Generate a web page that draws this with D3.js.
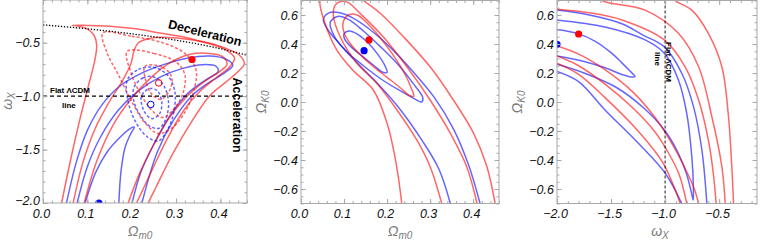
<!DOCTYPE html>
<html>
<head>
<meta charset="utf-8">
<script src="https://cdn.jsdelivr.net/npm/d3@7"></script>
<style>
body { margin: 0; background: #fff; }
</style>
</head>
<body>
<div id="chart"></div>
<script>
// ---- data ----
// panel 1: (Omega_m0, w_X)
var p1RedSolid = [
  [[0.042,-2.0],[0.062,-1.6],[0.083,-1.22],[0.102,-0.91],[0.117,-0.66],[0.121,-0.52],[0.115,-0.43],[0.1,-0.37],[0.08,-0.345],[0.066,-0.336],[0.1,-0.338],[0.151,-0.346],[0.21,-0.37],[0.263,-0.408],[0.31,-0.44],[0.353,-0.483],[0.39,-0.52],[0.413,-0.554],[0.443,-0.617],[0.454,-0.694],[0.44,-0.77],[0.413,-0.866],[0.375,-1.0],[0.338,-1.22],[0.293,-1.535],[0.255,-1.85],[0.237,-2.0]],
  [[0.068,-2.0],[0.09,-1.62],[0.118,-1.3],[0.15,-1.05],[0.18,-0.85],[0.198,-0.7],[0.205,-0.58],[0.215,-0.5],[0.24,-0.46],[0.28,-0.45],[0.33,-0.47],[0.38,-0.515],[0.415,-0.575],[0.432,-0.645],[0.42,-0.73],[0.39,-0.83],[0.355,-0.95],[0.318,-1.13],[0.28,-1.4],[0.245,-1.7],[0.211,-2.0]],
  [[0.093,-2.0],[0.12,-1.62],[0.158,-1.27],[0.2,-1.02],[0.245,-0.82],[0.285,-0.69],[0.33,-0.61],[0.375,-0.6],[0.405,-0.63],[0.415,-0.7],[0.398,-0.77],[0.365,-0.86],[0.325,-1.0],[0.285,-1.2],[0.25,-1.45],[0.218,-1.72],[0.192,-2.0]]
];
var p1BlueSolid = [
  [[0.053,-2.0],[0.075,-1.62],[0.1,-1.32],[0.135,-1.07],[0.175,-0.9],[0.225,-0.78],[0.275,-0.7],[0.325,-0.645],[0.375,-0.625],[0.41,-0.65],[0.428,-0.71],[0.41,-0.78],[0.375,-0.87],[0.335,-1.0],[0.295,-1.22],[0.258,-1.52],[0.223,-2.0]],
  [[0.077,-2.0],[0.1,-1.66],[0.13,-1.38],[0.17,-1.13],[0.215,-0.95],[0.265,-0.82],[0.315,-0.74],[0.36,-0.705],[0.39,-0.72],[0.395,-0.77],[0.37,-0.84],[0.33,-0.96],[0.29,-1.16],[0.25,-1.45],[0.22,-1.72],[0.201,-2.0]],
  [[0.095,-2.0],[0.118,-1.72],[0.145,-1.52],[0.175,-1.38],[0.198,-1.3],[0.206,-1.29],[0.198,-1.35],[0.185,-1.48],[0.176,-1.7],[0.171,-2.0]]
];
var p1RedDashed = [
  [[0.135,-0.41],[0.2,-0.44],[0.27,-0.5],[0.32,-0.6],[0.345,-0.75],[0.34,-0.95],[0.32,-1.15],[0.29,-1.3],[0.26,-1.35],[0.23,-1.25],[0.2,-1.05],[0.17,-0.8],[0.145,-0.6]],
  [[0.19,-0.58],[0.25,-0.6],[0.3,-0.68],[0.32,-0.8],[0.315,-0.98],[0.295,-1.12],[0.27,-1.2],[0.245,-1.13],[0.22,-0.98],[0.2,-0.8]],
  [[0.23,-0.72],[0.27,-0.73],[0.29,-0.82],[0.285,-0.95],[0.265,-1.03],[0.245,-0.98],[0.232,-0.86]]
];
var p1BlueDashed = [
  [[0.19,-0.85],[0.215,-0.75],[0.25,-0.73],[0.28,-0.8],[0.297,-0.95],[0.295,-1.15],[0.28,-1.32],[0.26,-1.42],[0.235,-1.38],[0.21,-1.25],[0.192,-1.05]],
  [[0.205,-0.92],[0.225,-0.83],[0.25,-0.82],[0.272,-0.9],[0.283,-1.05],[0.278,-1.2],[0.262,-1.3],[0.24,-1.28],[0.218,-1.17],[0.205,-1.05]],
  [[0.222,-1.0],[0.24,-0.93],[0.258,-0.95],[0.268,-1.06],[0.262,-1.17],[0.245,-1.21],[0.228,-1.14]]
];
var p1DecelLine = [[0,-0.333],[0.1,-0.370],[0.2,-0.417],[0.3,-0.476],[0.4,-0.556],[0.46,-0.617]];
var p1FilledDots = [{x:0.336, y:-0.657, c:"red"}, {x:0.126, y:-2.0, c:"blue"}];
var p1OpenDots = [{x:0.261, y:-0.876, c:"red"}, {x:0.243, y:-1.078, c:"blue"}];

// panel 2: (Omega_m0, Omega_K0)
var p2Red = [
  [[0.098,0.55],[0.11,0.6],[0.13,0.6],[0.155,0.54],[0.185,0.44],[0.215,0.32],[0.24,0.2],[0.257,0.09],[0.262,0.04],[0.252,0.045],[0.23,0.1],[0.2,0.17],[0.17,0.24],[0.14,0.32],[0.115,0.4],[0.1,0.48]],
  [[0.327,-0.7],[0.3,-0.446],[0.269,-0.262],[0.223,-0.055],[0.176,0.129],[0.13,0.267],[0.091,0.45],[0.075,0.6],[0.08,0.67],[0.095,0.695],[0.11,0.685],[0.137,0.612],[0.191,0.45],[0.246,0.243],[0.3,0.014],[0.347,-0.216],[0.385,-0.446],[0.409,-0.7]],
  [[0.234,-0.7],[0.226,-0.515],[0.215,-0.33],[0.2,-0.147],[0.168,0.083],[0.12,0.22],[0.083,0.359],[0.055,0.55],[0.044,0.70],[0.06,0.78],[0.11,0.78],[0.145,0.70],[0.184,0.612],[0.238,0.45],[0.3,0.243],[0.354,0.014],[0.401,-0.216],[0.432,-0.446],[0.451,-0.7]]
];
var p2RedClosed = [true, false, false];
var p2Blue = [
  [[0.1,0.47],[0.112,0.49],[0.13,0.47],[0.155,0.41],[0.178,0.33],[0.195,0.25],[0.2,0.205],[0.19,0.205],[0.17,0.25],[0.145,0.31],[0.12,0.37],[0.102,0.43]],
  [[0.068,0.55],[0.085,0.59],[0.11,0.57],[0.145,0.49],[0.185,0.38],[0.225,0.26],[0.26,0.13],[0.283,0.03],[0.28,0.0],[0.265,0.02],[0.235,0.07],[0.19,0.15],[0.145,0.25],[0.105,0.35],[0.078,0.45]],
  [[0.347,-0.7],[0.32,-0.46],[0.28,-0.26],[0.23,-0.05],[0.18,0.12],[0.13,0.27],[0.09,0.4],[0.062,0.5],[0.052,0.57],[0.065,0.615],[0.09,0.615],[0.12,0.58],[0.16,0.5],[0.21,0.37],[0.26,0.21],[0.31,0.03],[0.355,-0.19],[0.39,-0.44],[0.416,-0.7]]
];
var p2BlueClosed = [true, true, false];
var p2FilledDots = [{x:0.1465, y:0.354, c:"blue"}, {x:0.158, y:0.428, c:"red"}];

// panel 3: (w_X, Omega_K0)
var p3Red = [
  [[-2.0,0.64],[-1.7,0.615],[-1.4,0.566],[-1.007,0.428],[-0.815,0.243],[-0.69,0.014],[-0.6,-0.262],[-0.554,-0.492],[-0.528,-0.7]],
  [[-2.0,0.386],[-1.8,0.33],[-1.55,0.22],[-1.3,0.07],[-1.1,-0.1],[-0.95,-0.27],[-0.82,-0.45],[-0.73,-0.6],[-0.69,-0.7]],
  [[-1.65,0.75],[-1.586,0.7],[-1.185,0.634],[-0.877,0.474],[-0.69,0.243],[-0.568,-0.1],[-0.475,-0.446],[-0.444,-0.7]],
  [[-2.0,0.317],[-1.8,0.25],[-1.55,0.12],[-1.3,-0.04],[-1.1,-0.2],[-0.97,-0.35],[-0.87,-0.5],[-0.8,-0.7]],
  [[-0.95,0.75],[-0.907,0.7],[-0.753,0.634],[-0.6,0.474],[-0.475,0.243],[-0.414,-0.1],[-0.383,-0.446],[-0.367,-0.7]],
  [[-2.0,0.267],[-1.8,0.19],[-1.556,0.03],[-1.25,-0.2],[-1.02,-0.42],[-0.86,-0.7]]
];
var p3Blue = [
  [[-2.0,0.50],[-1.8,0.47],[-1.65,0.42],[-1.5,0.34],[-1.4,0.27],[-1.32,0.21],[-1.278,0.175],[-1.3,0.172],[-1.4,0.19],[-1.55,0.235],[-1.75,0.28],[-2.0,0.317]],
  [[-2.0,0.566],[-1.556,0.517],[-1.185,0.428],[-1.007,0.336],[-0.877,0.152],[-0.8,-0.078],[-0.753,-0.377],[-0.738,-0.6],[-0.74,-0.676],[-0.755,-0.63],[-0.8,-0.5],[-0.88,-0.35],[-1.0,-0.2],[-1.2,-0.04],[-1.45,0.1],[-1.75,0.2],[-2.0,0.26]],
  [[-2.0,0.634],[-1.7,0.6],[-1.4,0.54],[-1.2,0.46],[-1.007,0.38],[-0.846,0.198],[-0.738,-0.03],[-0.66,-0.33],[-0.614,-0.7]],
  [[-2.0,0.21],[-1.8,0.14],[-1.556,-0.055],[-1.247,-0.285],[-1.0,-0.49],[-0.846,-0.7]]
];
var p3FilledDots = [{x:-1.80, y:0.469, c:"red"}, {x:-2.0, y:0.398, c:"blue"}];

// tick labels
var omTicks = [0.0, 0.1, 0.2, 0.3, 0.4];
var wTicks1 = [-2.0, -1.5, -1.0, -0.5];
var wTicks3 = [-2.0, -1.5, -1.0, -0.5];
var okTicks = [-0.6, -0.4, -0.2, 0.0, 0.2, 0.4, 0.6];

// ---- drawing ----
var svg = d3.select("#chart").append("svg")
  .attr("width", 760)
  .attr("height", 240);

var font = "'Liberation Sans', Arial, sans-serif";
var lineRed = "rgba(255,0,0,0.6)", lineBlue = "rgba(0,0,255,0.6)";
var clipCount = 0;

function makePanel(xDom, xRan, yDom, yRan, xTicks, yTicks, xMinor, yMinor) {
  var x = d3.scaleLinear().domain(xDom).range(xRan);
  var y = d3.scaleLinear().domain(yDom).range(yRan);
  var id = "clip" + (clipCount++);
  svg.append("clipPath").attr("id", id).append("rect")
    .attr("x", xRan[0]).attr("y", yRan[1])
    .attr("width", xRan[1] - xRan[0]).attr("height", yRan[0] - yRan[1]);
  var g = svg.append("g");
  var plot = g.append("g").attr("clip-path", "url(#" + id + ")");

  var minorX = d3.range(Math.ceil(xDom[0] / xMinor - 1e-6), Math.floor(xDom[1] / xMinor + 1e-6) + 1).map(function(i) { return +(i * xMinor).toFixed(4); });
  var minorY = d3.range(Math.ceil(yDom[0] / yMinor - 1e-6), Math.floor(yDom[1] / yMinor + 1e-6) + 1).map(function(i) { return +(i * yMinor).toFixed(4); });

  var fmt = d3.format(".1f");
  var axes = g.append("g");
  // minor ticks all sides
  axes.append("g").attr("transform", "translate(0," + yRan[0] + ")")
    .call(d3.axisBottom(x).tickValues(minorX).tickSize(-2.5).tickFormat(""));
  axes.append("g").attr("transform", "translate(0," + yRan[1] + ")")
    .call(d3.axisTop(x).tickValues(minorX).tickSize(-2.5).tickFormat(""));
  axes.append("g").attr("transform", "translate(" + xRan[0] + ",0)")
    .call(d3.axisLeft(y).tickValues(minorY).tickSize(-2.5).tickFormat(""));
  axes.append("g").attr("transform", "translate(" + xRan[1] + ",0)")
    .call(d3.axisRight(y).tickValues(minorY).tickSize(-2.5).tickFormat(""));
  // major ticks
  var bx = axes.append("g").attr("transform", "translate(0," + yRan[0] + ")")
    .call(d3.axisBottom(x).tickValues(xTicks).tickSize(-4.5).tickPadding(6).tickFormat(fmt));
  axes.append("g").attr("transform", "translate(0," + yRan[1] + ")")
    .call(d3.axisTop(x).tickValues(xTicks).tickSize(-4.5).tickFormat(""));
  var ly = axes.append("g").attr("transform", "translate(" + xRan[0] + ",0)")
    .call(d3.axisLeft(y).tickValues(yTicks).tickSize(-4.5).tickPadding(3).tickFormat(fmt));
  axes.append("g").attr("transform", "translate(" + xRan[1] + ",0)")
    .call(d3.axisRight(y).tickValues(yTicks).tickSize(-4.5).tickFormat(""));
  bx.selectAll("text").attr("dx", -2);
  // keep the lowest left label clear of the first bottom label
  ly.selectAll(".tick text").filter(function(d) { return d === yDom[0]; }).attr("dy", "0.12em");
  axes.selectAll(".domain").remove();
  axes.selectAll(".tick line").attr("stroke", "#a8a8a8");
  axes.selectAll("text")
    .attr("font-family", font).attr("font-size", 12.5)
    .attr("font-style", "italic").attr("fill", "#111");

  g.append("rect")
    .attr("x", xRan[0]).attr("y", yRan[1])
    .attr("width", xRan[1] - xRan[0]).attr("height", yRan[0] - yRan[1])
    .attr("fill", "none").attr("stroke", "#a8a8a8").attr("stroke-width", 1);

  return { x: x, y: y, plot: plot, g: g };
}

function drawCurve(p, pts, color, closed, dash) {
  var line = d3.line()
    .x(function(d) { return p.x(d[0]); })
    .y(function(d) { return p.y(d[1]); })
    .curve(closed ? d3.curveCatmullRomClosed : d3.curveCatmullRom);
  p.plot.append("path")
    .datum(pts)
    .attr("d", line)
    .attr("fill", "none")
    .attr("stroke", color)
    .attr("stroke-width", 1.5)
    .attr("stroke-dasharray", dash || null);
}

function drawDots(p, dots, filled) {
  p.plot.selectAll(null)
    .data(dots)
    .enter().append("circle")
    .attr("cx", function(d) { return p.x(d.x); })
    .attr("cy", function(d) { return p.y(d.y); })
    .attr("r", filled ? 3.6 : 3.3)
    .attr("fill", function(d) { return filled ? d.c : "none"; })
    .attr("stroke", function(d) { return filled ? "none" : d.c; })
    .attr("stroke-width", 1);
}

function axisTitle(xp, yp, main, sub, rotate) {
  var t = svg.append("text")
    .attr("font-family", font).attr("font-size", 14)
    .attr("font-style", "italic").attr("fill", "#7a7a7a")
    .attr("text-anchor", "middle")
    .attr("transform", "translate(" + xp + "," + yp + ")" + (rotate ? " rotate(-90)" : ""));
  t.append("tspan").text(main);
  t.append("tspan").attr("font-size", 10).attr("dy", 3).text(sub);
}

// panel 1
var p1 = makePanel([0, 0.46], [43, 247], [-2, -0.1], [203, 0], omTicks, wTicks1, 0.02, 0.1);
p1BlueSolid.forEach(function(c) { drawCurve(p1, c, lineBlue, false); });
p1RedSolid.forEach(function(c) { drawCurve(p1, c, lineRed, false); });
p1BlueDashed.forEach(function(c) { drawCurve(p1, c, lineBlue, true, "3,2"); });
p1RedDashed.forEach(function(c) { drawCurve(p1, c, lineRed, true, "3,2"); });

p1.plot.append("path").datum(p1DecelLine)
  .attr("d", d3.line().x(function(d) { return p1.x(d[0]); }).y(function(d) { return p1.y(d[1]); }).curve(d3.curveMonotoneX))
  .attr("fill", "none").attr("stroke", "#000").attr("stroke-width", 1.3).attr("stroke-dasharray", "1.3,1.7");
p1.plot.append("line")
  .attr("x1", p1.x(0)).attr("x2", p1.x(0.46))
  .attr("y1", p1.y(-1)).attr("y2", p1.y(-1))
  .attr("stroke", "#000").attr("stroke-width", 1.2).attr("stroke-dasharray", "4,3");
drawDots(p1, p1FilledDots, true);
drawDots(p1, p1OpenDots, false);

p1.g.append("text").attr("font-family", font).attr("font-weight", "bold").attr("font-size", 12.5)
  .attr("text-anchor", "middle")
  .attr("transform", "translate(204,37) rotate(14)").text("Deceleration");
p1.g.append("text").attr("font-family", font).attr("font-weight", "bold").attr("font-size", 12.5)
  .attr("text-anchor", "middle")
  .attr("transform", "translate(233,115) rotate(90)").text("Acceleration");
p1.g.append("text").attr("font-family", font).attr("font-weight", "bold").attr("font-size", 8)
  .attr("x", 50).attr("y", 93).text("Flat \u039BCDM");
p1.g.append("text").attr("font-family", font).attr("font-weight", "bold").attr("font-size", 8)
  .attr("x", 62).attr("y", 108).text("line");

axisTitle(140, 236, "\u03A9", "m0", false);
axisTitle(12, 101, "\u03C9", "X", true);

// panel 2
var p2 = makePanel([0, 0.46], [301, 499], [-0.7, 0.7], [203.5, 0.5], omTicks, okTicks, 0.02, 0.05);
p2Blue.forEach(function(c, i) { drawCurve(p2, c, lineBlue, p2BlueClosed[i]); });
p2Red.forEach(function(c, i) { drawCurve(p2, c, lineRed, p2RedClosed[i]); });
drawDots(p2, p2FilledDots, true);
axisTitle(400, 236, "\u03A9", "m0", false);
axisTitle(266, 102, "\u03A9", "K0", true);

// panel 3
var p3 = makePanel([-2, -0.15], [557, 757], [-0.7, 0.7], [203.5, 0.5], wTicks3, okTicks, 0.1, 0.05);
p3Blue.forEach(function(c) { drawCurve(p3, c, lineBlue, false); });
p3Red.forEach(function(c) { drawCurve(p3, c, lineRed, false); });
p3.plot.append("line")
  .attr("x1", p3.x(-1)).attr("x2", p3.x(-1))
  .attr("y1", p3.y(0.7)).attr("y2", p3.y(-0.7))
  .attr("stroke", "#000").attr("stroke-width", 0.9).attr("stroke-dasharray", "3,2");
drawDots(p3, p3FilledDots, true);
p3.g.append("text").attr("font-family", font).attr("font-weight", "bold").attr("font-size", 8)
  .attr("text-anchor", "middle")
  .attr("transform", "translate(666,62) rotate(90)").text("Flat \u039BCDM");
p3.g.append("text").attr("font-family", font).attr("font-weight", "bold").attr("font-size", 8)
  .attr("text-anchor", "middle")
  .attr("transform", "translate(655,59) rotate(90)").text("line");
axisTitle(660, 236, "\u03C9", "X", false);
axisTitle(522, 102, "\u03A9", "K0", true);
</script>
</body>
</html>
